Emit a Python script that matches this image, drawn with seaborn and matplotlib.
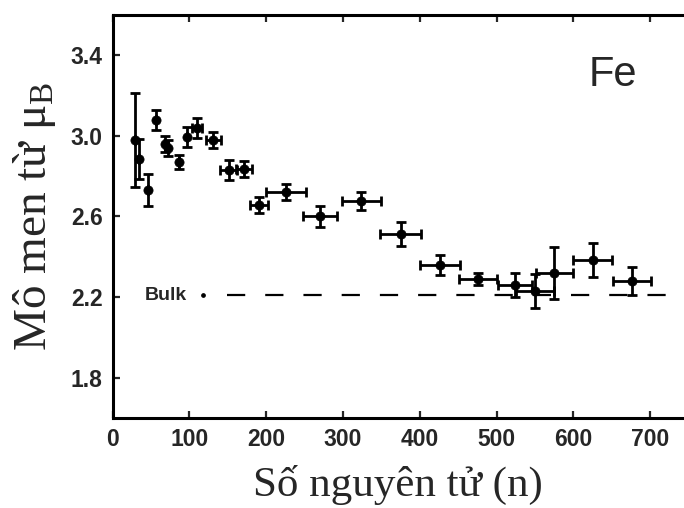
import matplotlib
matplotlib.use("Agg")
import matplotlib.pyplot as plt
import seaborn as sns
import pandas as pd

# Fe cluster magnetic moment per atom vs. cluster size
n_atoms = [29, 35, 46, 57, 68, 72, 87, 97, 110, 131, 151, 171, 191, 226,
           270, 324, 375, 426, 476, 524, 550, 575, 625, 676]
moment = [2.98, 2.885, 2.73, 3.08, 2.96, 2.94, 2.87, 2.995, 3.04, 2.98, 2.83,
          2.835, 2.656, 2.72, 2.60, 2.676, 2.515, 2.358, 2.29, 2.26, 2.23,
          2.32, 2.383, 2.28]
moment_err = [0.235, 0.10, 0.08, 0.05, 0.04, 0.04, 0.035, 0.05, 0.05, 0.04,
              0.05, 0.04, 0.04, 0.04, 0.05, 0.045, 0.06, 0.05, 0.03, 0.06,
              0.085, 0.13, 0.085, 0.07]
size_err = [0, 0, 0, 0, 0, 0, 0, 0, 6, 10, 11, 10, 12, 26, 22, 25, 27, 26,
            25, 22, 25, 24, 25, 25]

bulk_value = 2.21
x_ticks = [0, 100, 200, 300, 400, 500, 600, 700]
y_ticks = [1.8, 2.2, 2.6, 3.0, 3.4]

df = pd.DataFrame({"n": n_atoms, "mu": moment,
                   "dmu": moment_err, "dn": size_err})

sns.set_style("ticks")
plt.rcParams["font.family"] = ["Liberation Sans", "DejaVu Sans"]
plt.rcParams["mathtext.fontset"] = "custom"
plt.rcParams["mathtext.rm"] = "Liberation Serif"

fig = plt.figure(figsize=(6.84, 5.08), dpi=100)
ax = fig.add_axes([0.1646, 0.1772, 0.8354, 0.7933])

ax.errorbar(df["n"], df["mu"], yerr=df["dmu"], xerr=df["dn"], fmt="none",
            ecolor="black", elinewidth=2.0, capsize=3.4, capthick=2.0,
            zorder=2)
sns.scatterplot(data=df, x="n", y="mu", ax=ax, color="black", s=44,
                edgecolor="black", linewidth=0.5, zorder=3, legend=False)

# bulk iron reference line
ax.plot([149, 760], [bulk_value, bulk_value], color="black", lw=1.6,
        dashes=(8.2, 9.0), zorder=1)
ax.text(42, bulk_value, "Bulk", fontsize=14, fontweight="bold",
        va="center", ha="left")
ax.plot([118], [bulk_value], marker="o", ms=2.4, color="black")

ax.text(651, 3.30, "Fe", fontsize=30, va="center", ha="center")

ax.set_xlim(0, 744)
ax.set_ylim(1.6, 3.6)
ax.set_xticks(x_ticks)
ax.set_xticklabels([str(v) for v in x_ticks])
ax.set_yticks(y_ticks)
ax.set_yticklabels([f"{v:.1f}" for v in y_ticks])

ax.tick_params(axis="both", direction="in", length=5, width=1.6,
               labelsize=16.5, pad=7, top=True, right=False)
for lab in ax.get_xticklabels() + ax.get_yticklabels():
    lab.set_fontweight("bold")

for side in ["left", "bottom", "top"]:
    ax.spines[side].set_linewidth(2.2)
    ax.spines[side].set_color("black")
ax.spines["right"].set_visible(False)

ax.set_xlabel("Số nguyên tử (n)", fontsize=31, family="Liberation Serif",
              labelpad=10)
ax.set_ylabel("Mô men từ μ$_{\\mathrm{B}}$", fontsize=34,
              family="Liberation Serif", labelpad=9)

fig.savefig("out.png", dpi=100)
